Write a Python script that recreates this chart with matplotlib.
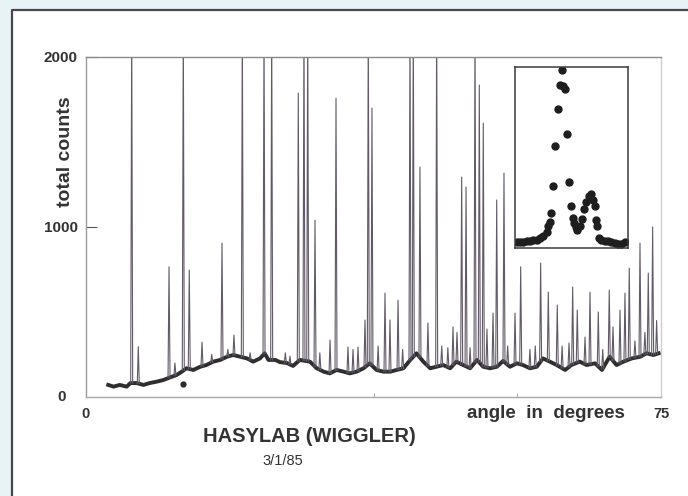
import numpy as np
import matplotlib.pyplot as plt
from matplotlib.lines import Line2D
from matplotlib.patches import Rectangle

W, H = 688, 496

# smooth background of the scan (angle in degrees, counts)
bg_angle = [2.9, 3.6, 4.4, 5.3, 5.8, 6.6, 7.5, 8.3, 9.2, 10.1, 11.0, 11.8, 12.5,
            13.1, 14.0, 14.9, 15.7, 16.6, 17.5, 18.4, 19.2, 20.1, 21.0, 21.8,
            22.7, 23.3, 23.8, 24.7, 25.3, 26.2, 27.0, 27.9, 29.2, 30.1, 31.0,
            31.8, 32.7, 33.6, 34.4, 35.3, 36.2, 37.0, 37.9, 38.8, 39.7, 40.5,
            41.4, 42.3, 43.1, 44.0, 44.9, 45.7, 46.6, 47.5, 48.3, 49.2, 50.1,
            51.0, 51.8, 52.7, 53.6, 54.4, 55.3, 56.2, 57.0, 57.9, 58.8, 59.6,
            60.5, 61.4, 62.5, 63.3, 64.4, 65.3, 66.4, 67.3, 68.3, 69.2, 70.1,
            71.2, 72.3, 73.1, 74.0, 74.7]
bg_counts = [71, 61, 71, 61, 82, 82, 71, 82, 90, 100, 116, 129, 149,
             169, 159, 178, 188, 208, 218, 237, 247, 237, 227, 208,
             227, 257, 218, 218, 205, 200, 183, 218, 208, 169, 149,
             139, 159, 149, 139, 149, 169, 198, 159, 149, 149, 159,
             169, 218, 257, 208, 169, 178, 188, 169, 208, 188, 169,
             218, 178, 169, 178, 212, 178, 198, 188, 169, 178, 227,
             208, 188, 159, 188, 208, 188, 198, 159, 237, 188, 208,
             227, 237, 257, 247, 257]

# diffraction peaks (clipped ones run off the top of the frame)
peak_angle = [5.96, 6.82, 10.83, 11.6, 12.69, 13.47, 15.13, 16.4, 17.74, 18.5,
              19.3, 20.39, 21.4, 23.22, 24.22, 26.0, 26.6, 27.69, 28.43, 28.92,
              29.87, 30.5, 31.83, 32.61, 34.17, 34.83, 35.48, 36.39, 36.82,
              37.3, 38.1, 39.0, 39.65, 40.7, 41.3, 42.26, 42.69, 43.56, 44.6,
              45.74, 46.4, 47.2, 47.87, 48.39, 49.0, 49.57, 50.1, 50.74, 51.3,
              51.82, 52.3, 53.09, 53.57, 54.52, 55.0, 55.96, 56.7, 57.9, 58.6,
              59.3, 60.3, 61.47, 62.1, 63.0, 63.48, 64.08, 65.09, 65.74, 66.82,
              67.4, 68.25, 68.74, 69.65, 70.3, 70.86, 71.6, 72.26, 72.9, 73.34,
              73.91, 74.43]
peak_counts = [2200, 296, 766, 200, 2200, 747, 323, 250, 905, 280,
               365, 2200, 260, 2200, 2200, 260, 240, 1788, 2200, 2200,
               1040, 260, 335, 1758, 294, 280, 294, 453, 2200,
               1700, 300, 611, 453, 570, 280, 2200, 2200, 1353, 435,
               2200, 300, 290, 412, 380, 1294, 1235, 290, 2200, 1835,
               1611, 400, 494, 1159, 1317, 300, 494, 766, 280, 300,
               788, 617, 541, 300, 318, 647, 511, 353, 617, 500,
               280, 629, 412, 511, 611, 758, 330, 905, 380, 729,
               1000, 450]

mark_angle = [12.65]
mark_counts = [76]

# inset: profile of one reflection, relative units
inset_pos = [1.5, 4.4, 7.4, 10.3, 13.2, 16.2, 19.1, 22.1, 25.0, 27.9, 29.4, 30.9,
             31.5, 33.8, 35.3, 38.2, 39.7, 41.2, 42.6, 44.1, 45.6, 47.6, 49.4,
             50.9, 52.1, 53.8, 55.3, 57.4, 59.4, 61.2, 63.2, 65.6, 67.6, 69.1,
             70.6, 71.5, 72.6, 74.4, 76.5, 79.4, 82.4, 85.3, 88.2, 91.2, 94.1,
             97.1]
inset_counts = [3.1, 3.3, 3.5, 3.7, 3.9, 4.2, 4.6, 5.3, 6.4, 8.7, 12.0, 14.2,
                19.5, 34.1, 56.2, 76.8, 90.2, 98.2, 89.3, 87.8, 63.2, 36.3, 23.4,
                16.6, 13.8, 11.6, 10.1, 12.3, 16.0, 21.5, 25.2, 28.5, 30.0, 26.7,
                23.4, 15.7, 12.0, 5.5, 4.6, 4.1, 3.7, 3.1, 2.8, 2.2, 2.4,
                3.1]

x_ticks = [0, 75]
x_minor = [37.5, 56.25]
y_ticks = [1000, 2000]


def px(x, y):
    return x / W, 1 - y / H


def draw_frame(fig):
    fig.patch.set_facecolor('#e8f3f6')
    x0, y0 = px(12, 10)
    fig.patches.append(Rectangle((x0, 0), 1 - x0, y0, transform=fig.transFigure,
                                 facecolor='white', edgecolor='none', zorder=-5))
    fig.lines.append(Line2D([x0, x0, 1], [0, y0, y0], transform=fig.transFigure,
                            color='#4a4650', lw=1.6))


def draw_scan(ax):
    ax.plot(bg_angle, bg_counts, color='#2e2e2e', lw=2.8, solid_joinstyle='round')
    base = np.interp(peak_angle, bg_angle, bg_counts)
    w = 0.13
    for a, h, b in zip(peak_angle, peak_counts, base):
        ax.plot([a - w, a, a + w], [b, h, b], color='#625a68', lw=0.8)
    ax.plot(mark_angle, mark_counts, 'o', color='#2b2b2b', ms=3.5)

    ax.set_xlim(0, 75)
    ax.set_ylim(0, 2000)
    ax.set_xticks(x_ticks)
    ax.set_xticks(x_minor, minor=True)
    ax.set_yticks(y_ticks)
    ax.tick_params(axis='y', direction='in', length=8, color='#555', pad=6,
                   labelsize=11, labelcolor='#333')
    ax.tick_params(axis='x', which='major', length=0, pad=7, labelsize=10.5,
                   labelcolor='#333')
    ax.tick_params(axis='x', which='minor', direction='in', length=3, color='#999')
    for lab in ax.get_xticklabels() + ax.get_yticklabels():
        lab.set_fontweight('bold')
    ax.text(-0.035, 0, '0', transform=ax.transAxes, ha='right', va='center',
            fontsize=11, fontweight='bold', color='#333')

    for side, col in [('left', '#9a9a9a'), ('bottom', '#a8a8a8'),
                      ('top', '#8a8a8a'), ('right', '#cfcfcf')]:
        ax.spines[side].set_color(col)
        ax.spines[side].set_linewidth(1.0)


def draw_inset(fig):
    l, t = px(515, 67)
    r, b = px(628, 248)
    ins = fig.add_axes([l, b, r - l, t - b])
    ins.plot(inset_pos, inset_counts, 'o', color='#1e1e1e', ms=5)
    ins.set_xlim(0, 100)
    ins.set_ylim(0, 100)
    ins.set_xticks([])
    ins.set_yticks([])
    for s in ins.spines.values():
        s.set_color('#3a3a3a')
        s.set_linewidth(1.1)


def main():
    plt.rcParams['font.family'] = ['Liberation Sans', 'DejaVu Sans']
    fig = plt.figure(figsize=(W / 100, H / 100), dpi=100)
    draw_frame(fig)

    l, t = px(86, 57)
    r, b = px(661, 397)
    ax = fig.add_axes([l, b, r - l, t - b])
    draw_scan(ax)
    draw_inset(fig)

    kw = dict(color='#333', fontweight='bold')
    fig.text(*px(66, 152), 'total counts', rotation=90, ha='center', va='center',
             fontsize=14, **kw)
    fig.text(*px(467, 413), 'angle  in  degrees', ha='left', va='center',
             fontsize=13.5, **kw)
    fig.text(*px(309, 437), 'HASYLAB (WIGGLER)', ha='center', va='center',
             fontsize=14.5, **kw)
    fig.text(*px(283, 461), '3/1/85', ha='center', va='center', fontsize=10.5,
             color='#333')

    fig.savefig('out.png', dpi=100, facecolor=fig.get_facecolor())


if __name__ == "__main__":
    main()
